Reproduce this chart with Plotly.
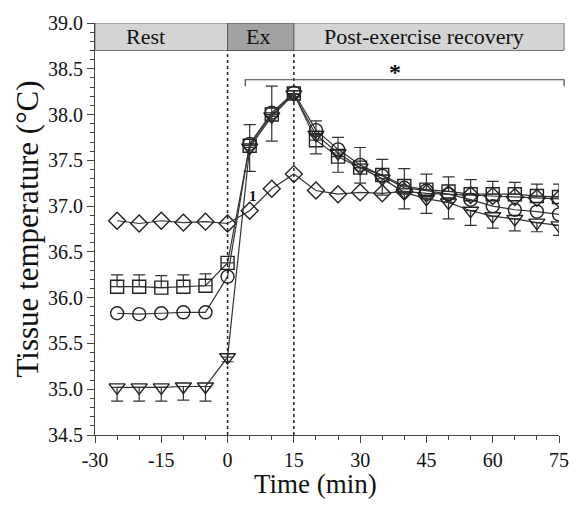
import plotly.graph_objects as go

time = [-25, -20, -15, -10, -5, 0, 5, 10, 15, 20, 25, 30, 35, 40, 45, 50, 55, 60, 65, 70, 75]

diamond = [36.84, 36.81, 36.84, 36.82, 36.83, 36.81, 36.95, 37.19, 37.35, 37.17, 37.13, 37.15,
           37.14, 37.16, 37.14, 37.13, 37.12, 37.11, 37.10, 37.09, 37.08]
square = [36.12, 36.12, 36.11, 36.12, 36.13, 36.38, 37.66, 38.00, 38.23, 37.72, 37.54, 37.42,
          37.34, 37.22, 37.18, 37.16, 37.13, 37.13, 37.13, 37.11, 37.10]
square_err = [0.13, 0.13, 0.13, 0.13, 0.13, 0.0, 0.23, 0.31, 0.03, 0.21, 0.21, 0.22,
              0.17, 0.19, 0.17, 0.16, 0.16, 0.14, 0.13, 0.13, 0.14]
circle = [35.83, 35.82, 35.83, 35.84, 35.84, 36.23, 37.68, 38.02, 38.24, 37.83, 37.62, 37.45,
          37.33, 37.20, 37.17, 37.13, 37.07, 37.00, 36.96, 36.94, 36.91]
triangle = [35.02, 35.02, 35.02, 35.03, 35.03, 35.35, 37.64, 37.98, 38.22, 37.78, 37.58, 37.42,
            37.30, 37.15, 37.08, 37.04, 36.95, 36.89, 36.86, 36.82, 36.79]
triangle_err = [0.15, 0.15, 0.15, 0.15, 0.16, 0.05, 0.26, 0.27, 0.03, 0.21, 0.21, 0.17,
                0.18, 0.18, 0.16, 0.18, 0.16, 0.13, 0.13, 0.10, 0.11]

x_ticks = [-30, -15, 0, 15, 30, 45, 60, 75]
y_ticks = [34.5, 35.0, 35.5, 36.0, 36.5, 37.0, 37.5, 38.0, 38.5, 39.0]

FONT = "Liberation Serif"
LC = "#333333"

fig = go.Figure()

def add(y, sym, size, err=None, errminus=None):
    ey = None
    if err is not None:
        ey = dict(type="data", symmetric=False, array=err, arrayminus=[0]*len(err),
                  color=LC, thickness=1.2, width=6)
    if errminus is not None:
        ey = dict(type="data", symmetric=False, array=[0]*len(errminus), arrayminus=errminus,
                  color=LC, thickness=1.2, width=6)
    fig.add_trace(go.Scatter(
        x=time, y=y, mode="lines+markers",
        line=dict(color=LC, width=1.2),
        marker=dict(symbol=sym, size=size, color="#222222", line=dict(width=1.4, color="#222222")),
        error_y=ey, showlegend=False))

add(diamond, "diamond-open", 13)
add(square, "square-open", 13, err=square_err)
add(circle, "circle-open", 13)
add(triangle, "triangle-down-open", 14, errminus=triangle_err)

shapes = []
# header band
shapes.append(dict(type="rect", xref="paper", yref="y", x0=0, x1=1.011, y0=38.7, y1=39.0,
                   fillcolor="#d4d4d4", line=dict(color="#777777", width=1), layer="below"))
shapes.append(dict(type="rect", xref="x", yref="y", x0=0, x1=15, y0=38.7, y1=39.0,
                   fillcolor="#a2a2a2", line=dict(color="#555555", width=1), layer="below"))
# dotted phase lines
for xv in [0, 15]:
    shapes.append(dict(type="line", xref="x", yref="y", x0=xv, x1=xv, y0=34.5, y1=38.7,
                       line=dict(color="#222222", width=1.5, dash="dot")))
# bracket
shapes.append(dict(type="path", xref="paper", yref="y",
                   path="M %f,38.31 L %f,38.38 L %f,38.38 L %f,38.31" % (
                       34/105, 34/105, 1.011, 1.011),
                   line=dict(color="#444444", width=1.2)))

annotations = [
    dict(x=-18.5, y=38.85, xref="x", yref="y", text="Rest", showarrow=False,
         font=dict(family=FONT, size=22, color="#111111")),
    dict(x=6.8, y=38.85, xref="x", yref="y", text="Ex", showarrow=False,
         font=dict(family=FONT, size=22, color="#111111")),
    dict(x=44.5, y=38.85, xref="x", yref="y", text="Post-exercise recovery", showarrow=False,
         font=dict(family=FONT, size=22, color="#111111")),
    dict(x=37.8, y=38.47, xref="x", yref="y", text="<b>*</b>", showarrow=False,
         font=dict(family=FONT, size=24, color="#111111")),
    dict(x=5.8, y=37.11, xref="x", yref="y", text="<b>1</b>", showarrow=False,
         font=dict(family=FONT, size=15, color="#111111")),
    dict(x=20, y=-0.12, xref="x", yref="paper", text="Time (min)", showarrow=False,
         yanchor="middle", font=dict(family=FONT, size=27, color="#111111")),
]

fig.update_layout(
    width=581, height=508,
    margin=dict(l=95, r=14, t=18, b=73),
    plot_bgcolor="white", paper_bgcolor="white",
    shapes=shapes, annotations=annotations,
    font=dict(family=FONT, color="#111111"),
    xaxis=dict(range=[-30, 75], tickvals=x_ticks, ticktext=[str(v) for v in x_ticks],
               ticks="outside", ticklen=7, tickwidth=1,
               tickcolor="#444444", showline=True, linecolor="#444444", linewidth=1,
               showgrid=False, zeroline=False, tickfont=dict(family=FONT, size=20),
               minor=dict(dtick=5, tick0=0, ticks="outside", ticklen=4, tickcolor="#444444")),
    yaxis=dict(range=[34.5, 39.0], tickvals=y_ticks, ticktext=["%.1f" % v for v in y_ticks],
               ticks="outside", ticklen=7, tickwidth=1, tickcolor="#444444",
               showline=True, linecolor="#444444", linewidth=1, showgrid=False, zeroline=False,
               tickfont=dict(family=FONT, size=20),
               minor=dict(dtick=0.1, tick0=34.5, ticks="outside", ticklen=4, tickcolor="#444444"),
               title=dict(text="Tissue temperature (°C)", font=dict(family=FONT, size=31), standoff=0)),
)

fig.write_html("out.html")
